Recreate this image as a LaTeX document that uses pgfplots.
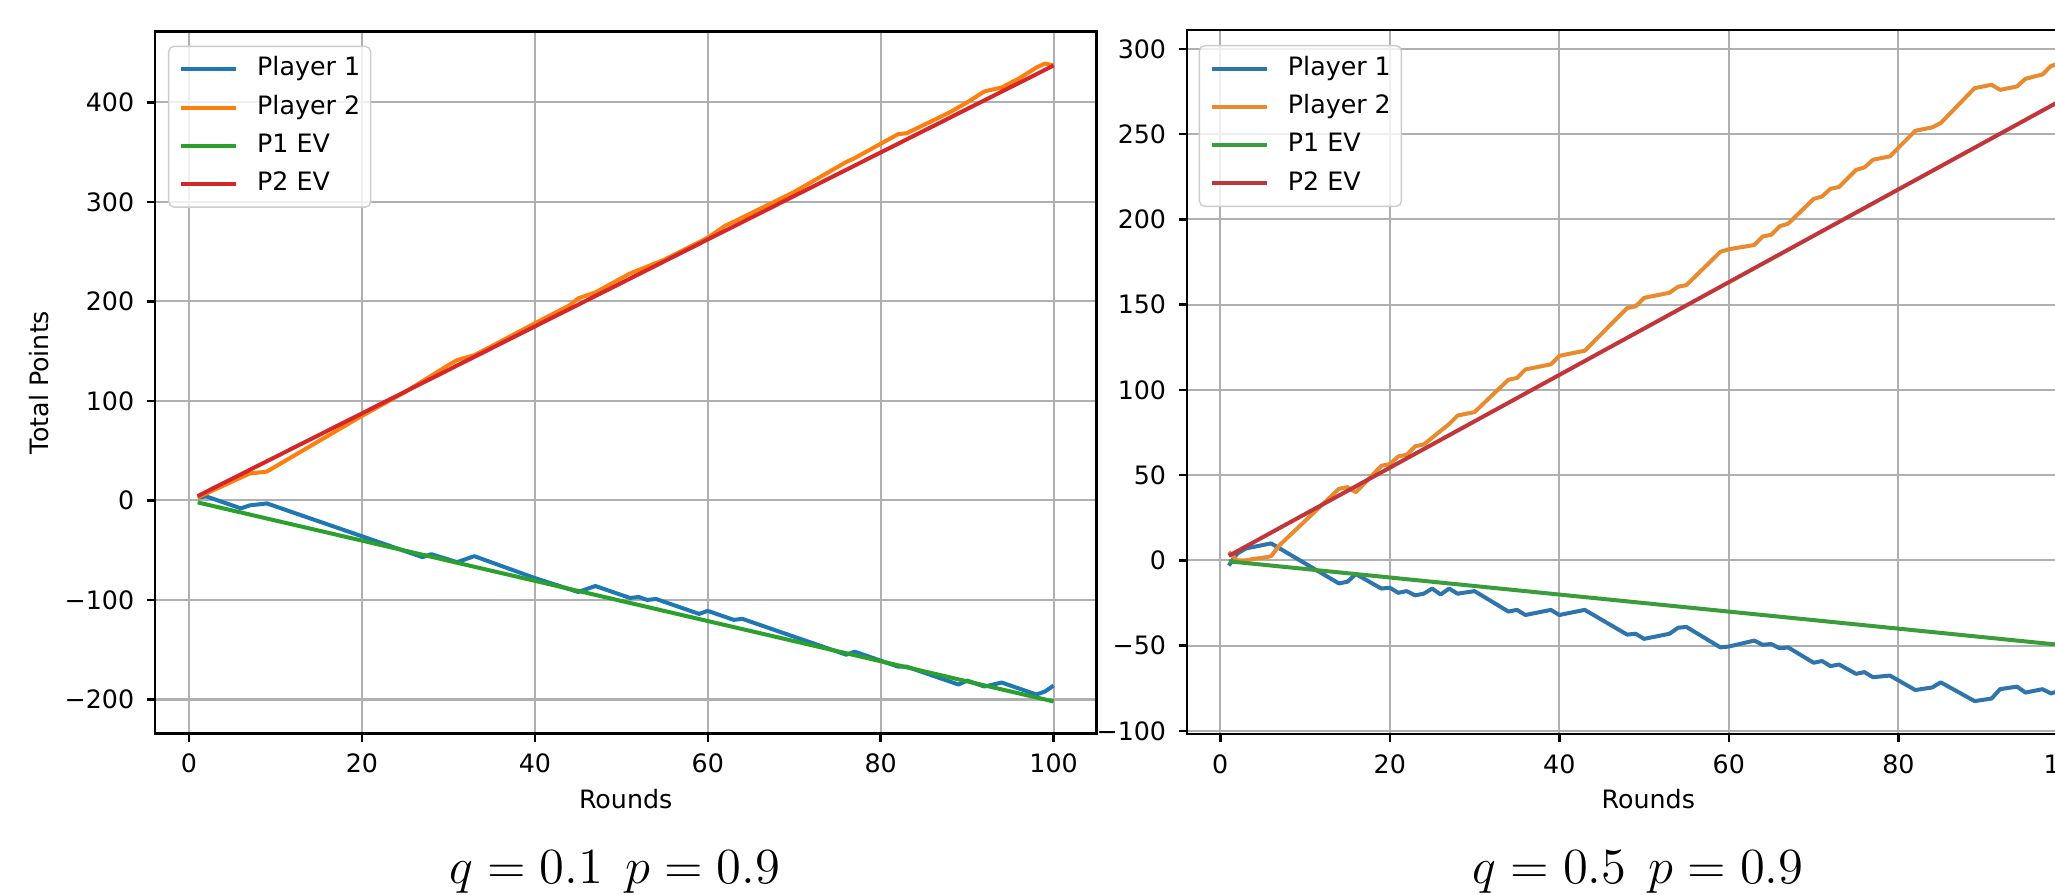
\documentclass[border=0pt]{standalone}
\usepackage{fontspec}
\setmainfont{DejaVu Sans}
\usepackage{pgfplots}
\pgfplotsset{compat=1.18}

\definecolor{tblue}{HTML}{1F77B4}
\definecolor{torange}{HTML}{FF7F0E}
\definecolor{tgreen}{HTML}{2CA02C}
\definecolor{tred}{HTML}{D62728}
% right panel is a re-compressed screenshot, tones a bit duller
\definecolor{rblue}{HTML}{3074AC}
\definecolor{rorange}{HTML}{EA8A2E}
\definecolor{rgreen}{HTML}{3A9D3A}
\definecolor{rred}{HTML}{C0363A}

\newcommand{\smallfont}{\fontsize{7.2}{8.6}\selectfont}

\pgfplotsset{
  mpl/.style={
    scale only axis,
    xmin=-3.95, xmax=104.95,
    xtick={0,20,40,60,80,100}, xticklabels={0,20,40,60,80,100},
    xtick pos=bottom, ytick pos=left,
    tick align=outside, major tick length=0.083cm,
    tick style={line width=0.7pt, black},
    axis line style={line width=0.7pt, black},
    grid=major, major grid style={line width=0.6pt, color=black!31},
    tick label style={font=\smallfont},
    xlabel={Rounds},
    xlabel style={font=\smallfont, at={(axis description cs:0.5,-0.1065)}, anchor=base},
    legend cell align=left,
    legend image code/.code={\draw[##1] (0cm,0cm) -- (0.55cm,0cm);},
    legend style={font=\smallfont, draw=black!20, rounded corners=1.5pt,
      fill=white, fill opacity=0.8, text opacity=1,
      inner xsep=3pt, inner ysep=3.1pt, row sep=4.1pt, column sep=0.19cm,
      nodes={inner sep=0pt, text height=5.3pt, text depth=1.5pt}},
    every axis plot/.append style={line width=1.14pt, line join=round},
  }
}

\begin{document}
\begin{tikzpicture}
\useasboundingbox (0,0) rectangle (20.55,8.94);
\clip (0,0) rectangle (20.55,8.94);

% q = 0.1
\begin{axis}[mpl,
  at={(1.549cm,1.607cm)}, anchor=south west,
  width=9.415cm, height=7.016cm,
  ymin=-234, ymax=471,
  ytick={-200,-100,0,100,200,300,400},
  yticklabels={−200,−100,0,100,200,300,400},
  ylabel={Total Points},
  ylabel style={font=\smallfont, at={(axis description cs:-0.1125,0.5)}, anchor=base},
  legend style={at={(0.0139,0.980)}, anchor=north west},
]
\addplot[tblue] coordinates {
  (1,3) (2,4) (6,-8) (7,-5) (9,-3) (20,-36) (27,-57) (28,-54) (31,-62) (33,-56)
  (40,-78) (45,-92) (47,-86) (51,-98) (52,-97) (53,-100) (54,-99) (59,-114)
  (60,-111) (63,-120) (64,-119) (70,-137) (76,-155) (77,-152) (82,-167) (83,-167)
  (89,-185) (90,-181) (92,-187) (94,-183) (98,-195) (99,-192) (100,-186)};
\addlegendentry{Player 1}
\addplot[torange] coordinates {
  (1,3) (7,27) (9,29) (20,85) (25,109) (30,136) (31,141) (33,146) (35,155)
  (40,178) (44,196) (45,203) (47,209) (51,228) (53,235) (55,242) (60,264)
  (62,276) (63,280) (70,310) (76,340) (77,344) (82,368) (83,369) (88,390)
  (90,400) (92,411) (94,415) (96,424) (98,435) (99,439) (100,437)};
\addlegendentry{Player 2}
\addplot[tgreen] coordinates {(1,-2) (25,-50.5) (50,-101) (75,-151.5) (100,-202)};
\addlegendentry{P1 EV}
\addplot[tred] coordinates {(1,4.4) (25,109.3) (50,218.5) (75,327.8) (100,437)};
\addlegendentry{P2 EV}
\end{axis}

% q = 0.5
\begin{axis}[mpl,
  at={(11.868cm,1.60cm)}, anchor=south west,
  width=9.23cm, height=7.04cm,
  ymin=-101.8, ymax=311.1,
  ytick={-100,-50,0,50,100,150,200,250,300},
  yticklabels={−100,−50,0,50,100,150,200,250,300},
  legend style={at={(0.0129,0.9787)}, anchor=north west},
]
\addplot[rblue] coordinates {
  (1,-3) (2,4) (3,7) (6,10) (14,-13.5) (15,-12.5) (16,-8) (19,-16.5) (20,-16)
  (21,-19) (22,-18) (23,-20.5) (24,-19.5) (25,-16.5) (26,-20) (27,-16.5)
  (28,-19.5) (30,-18) (34,-30) (35,-29) (36,-32) (39,-29) (40,-32) (43,-29)
  (48,-43.5) (49,-43) (50,-46) (53,-43) (54,-39.5) (55,-39) (59,-51) (60,-50.5)
  (63,-47) (64,-49.5) (65,-49) (66,-51.5) (67,-51) (70,-60) (71,-59) (72,-62)
  (73,-61) (75,-66.5) (76,-65.5) (77,-68.5) (79,-67.5) (82,-76) (84,-74.5)
  (85,-71.5) (89,-82.5) (91,-81) (92,-75.5) (94,-74) (95,-77.5) (97,-75.5)
  (98,-78) (99,-76.5) (100,-76)};
\addlegendentry{Player 1}
\addplot[rorange] coordinates {
  (1,5) (2,0) (3,0) (4,1) (5,1.5) (6,2.5) (7,9) (14,42) (15,43) (16,40)
  (19,55.5) (20,56.5) (21,61) (22,62) (23,67) (24,68) (26,76) (27,80) (28,85)
  (29,86) (30,87) (34,106) (35,107) (36,112) (37,113) (39,115) (40,120) (42,122)
  (43,123) (48,148) (49,149) (50,154) (53,157) (54,160.5) (55,161.5) (59,181)
  (60,182.5) (63,185) (64,190) (65,191) (66,196) (67,197.5) (70,212) (71,213.5)
  (72,218) (73,219) (75,229) (76,230.5) (77,235) (79,237) (82,252) (84,254)
  (85,256.5) (89,277) (91,279) (92,276) (94,278) (95,282.5) (97,285) (98,290)
  (99,291.5) (100,292)};
\addlegendentry{Player 2}
\addplot[rgreen] coordinates {(1,-0.5) (25,-12.5) (50,-25) (75,-37.5) (100,-50)};
\addlegendentry{P1 EV}
\addplot[rred] coordinates {(1,2.7) (25,68) (50,136) (75,204) (100,272)};
\addlegendentry{P2 EV}
\end{axis}

\node[font=\fontsize{14}{16}\selectfont, anchor=base] at (6.147,0.11)
  {$q = 0.1\hspace{0.45em}p = 0.9$};
\node[font=\fontsize{14}{16}\selectfont, anchor=base] at (16.38,0.11)
  {$q = 0.5\hspace{0.45em}p = 0.9$};
\end{tikzpicture}
\end{document}
